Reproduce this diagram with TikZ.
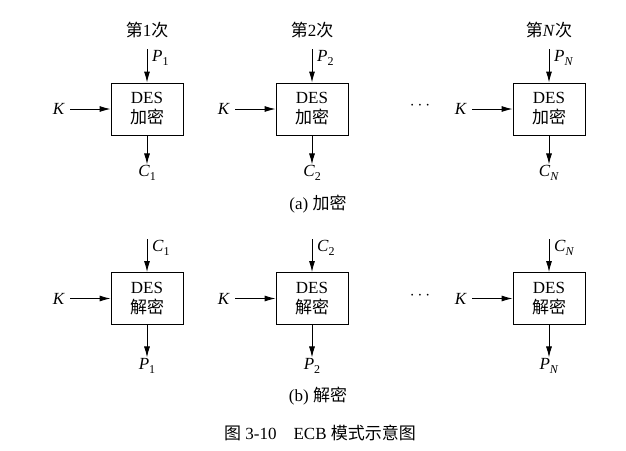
\documentclass[tikz,border=0pt]{standalone}
\usepackage{fontspec}
\setmainfont{Liberation Serif}
\newfontfamily\cjk{Noto Sans CJK SC}
\usetikzlibrary{arrows.meta}
\newcommand\vsub[2]{\textit{#1}\raisebox{-0.45ex}{\fontsize{12}{13}\selectfont #2}}
\begin{document}
\begin{tikzpicture}[x=1pt,y=-1pt,font=\fontsize{17}{20}\selectfont,
  box/.style={draw,line width=0.9pt,minimum width=72pt,minimum height=52pt,align=center,inner sep=0pt},
  arr/.style={-{Latex[length=11pt,width=6pt]},line width=0.9pt},
  lbl/.style={inner sep=1pt}]
\useasboundingbox (0,0) rectangle (626,450);
\foreach \x/\i/\s in {147/1/1,312/2/2,549/3/\textit{N}}{
  % encryption row
  \node[lbl] (t\i) at (\x,30) {{\cjk 第}\s{\cjk 次}};
  \node[box] (e\i) at (\x,109) {DES\\[0pt]{\cjk 加密}};
  \coordinate (ein\i) at (\x,49);
  \node[lbl,anchor=west] (p\i) at (\x+4,58) {\vsub{P}{\s}};
  \node[lbl] (k\i) at (\x-88,109) {\textit{K}};
  \node[lbl] (c\i) at (\x,173) {\vsub{C}{\s}};
  \draw[arr] (ein\i) -- (e\i.north);
  \draw[arr] (k\i.east)+(4,0) -- (e\i.west);
  \draw[arr] (e\i.south) -- (c\i.north);
  % decryption row
  \node[box] (d\i) at (\x,298.5) {DES\\[0pt]{\cjk 解密}};
  \coordinate (din\i) at (\x,239);
  \node[lbl,anchor=west] (cc\i) at (\x+4,248) {\vsub{C}{\s}};
  \node[lbl] (kk\i) at (\x-88,298.5) {\textit{K}};
  \node[lbl] (pp\i) at (\x,366) {\vsub{P}{\s}};
  \draw[arr] (din\i) -- (d\i.north);
  \draw[arr] (kk\i.east)+(4,0) -- (d\i.west);
  \draw[arr] (d\i.south) -- (pp\i.north);
}
\node (dots1) at (420,106) {$\cdots$};
\node (dots2) at (420,296) {$\cdots$};
\node (capa) at (318,204) {(a) {\cjk 加密}};
\node (capb) at (318,396) {(b) {\cjk 解密}};
\node (cap) at (320,433) {{\cjk 图} 3-10\quad ECB {\cjk 模式示意图}};
\end{tikzpicture}
\end{document}
